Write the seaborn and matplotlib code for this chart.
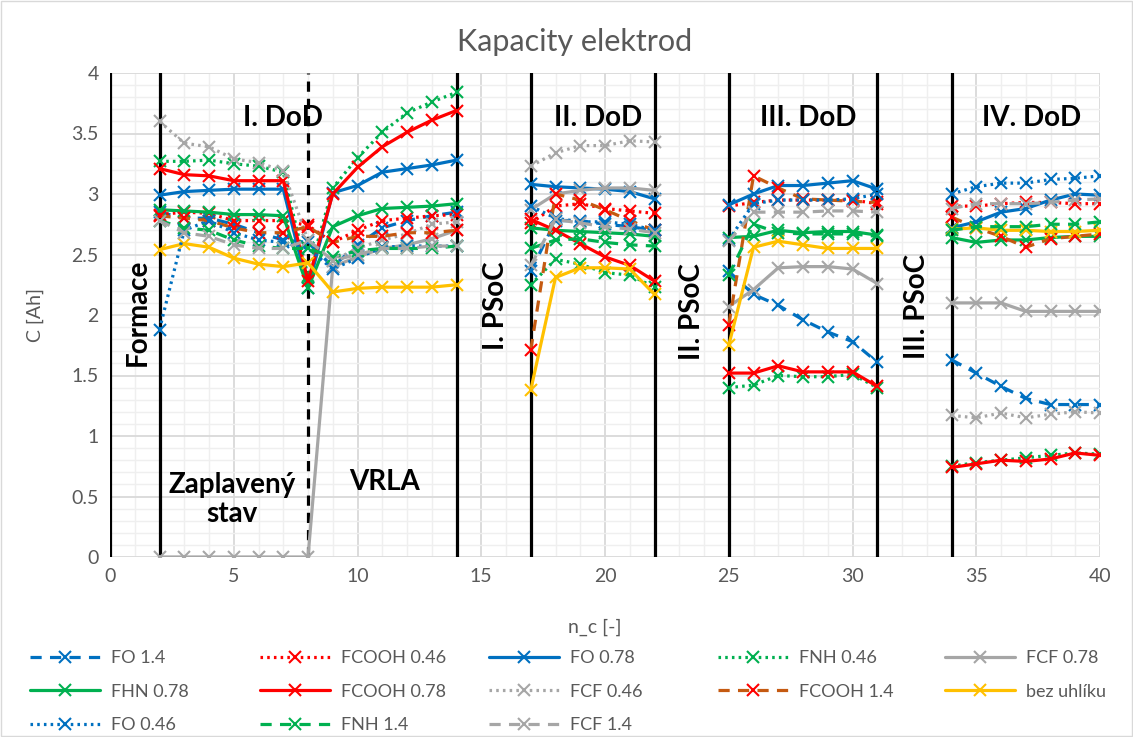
import numpy as np
import pandas as pd
import matplotlib
matplotlib.use("Agg")
import matplotlib.pyplot as plt
from matplotlib.lines import Line2D
from matplotlib.patches import Rectangle
import seaborn as sns

# ---------------- data ----------------
cycles = [2, 3, 4, 5, 6, 7, 8, 9, 10, 11, 12, 13, 14,
          17, 18, 19, 20, 21, 22,
          25, 26, 27, 28, 29, 30, 31,
          34, 35, 36, 37, 38, 39, 40]
segment = [1] * 13 + [2] * 6 + [3] * 7 + [4] * 7
NA = np.nan

fo_14 = [2.85, 2.80, 2.80, 2.75, 2.68, 2.62, 2.60, 2.40, 2.58, 2.72, 2.78, 2.82, 2.85,
         2.36, 2.78, 2.78, 2.75, 2.73, 2.70,
         2.36, 2.17, 2.08, 1.96, 1.86, 1.78, 1.61,
         1.63, 1.52, 1.41, 1.31, 1.26, 1.26, 1.26]
fcooh_046 = [2.83, 2.85, 2.84, 2.78, 2.78, 2.78, 2.74, 2.60, 2.70, 2.78, 2.80, 2.82, 2.83,
             2.76, 2.90, 2.92, 2.88, 2.86, 2.84,
             2.90, 2.93, 2.95, 2.95, 2.95, 2.95, 2.92,
             2.90, 2.90, 2.92, 2.93, 2.93, 2.92, 2.92]
fo_078 = [2.99, 3.02, 3.03, 3.04, 3.04, 3.04, 2.22, 3.01, 3.07, 3.18, 3.21, 3.24, 3.28,
          3.08, 3.06, 3.05, 3.04, 3.02, 2.96,
          2.91, 3.00, 3.07, 3.07, 3.09, 3.11, 3.04,
          2.72, 2.77, 2.85, 2.88, 2.95, 3.00, 2.99]
fnh_046 = [3.27, 3.27, 3.28, 3.25, 3.23, 3.18, 2.32, 3.05, 3.30, 3.51, 3.67, 3.76, 3.84,
           2.25, 2.46, 2.42, 2.35, 2.33, 2.23,
           1.40, 1.42, 1.50, 1.49, 1.49, 1.51, 1.40,
           0.75, 0.78, 0.80, 0.82, 0.84, 0.86, 0.85]
fcf_078 = [0, 0, 0, 0, 0, 0, 0, 2.40, 2.48, 2.55, 2.58, 2.63, 2.70,
           2.87, 3.00, 3.03, 3.05, 3.05, 3.03,
           2.07, 2.21, 2.39, 2.40, 2.40, 2.38, 2.26,
           2.10, 2.10, 2.10, 2.03, 2.03, 2.03, 2.03]
fhn_078 = [2.87, 2.86, 2.85, 2.83, 2.83, 2.82, 2.22, 2.73, 2.82, 2.88, 2.89, 2.90, 2.92,
           2.72, 2.70, 2.69, 2.68, 2.67, 2.65,
           2.64, 2.65, 2.70, 2.68, 2.69, 2.69, 2.66,
           2.64, 2.60, 2.62, 2.62, 2.64, 2.65, 2.65]
fcooh_078 = [3.21, 3.16, 3.15, 3.11, 3.11, 3.11, 2.28, 3.00, 3.22, 3.39, 3.51, 3.61, 3.69,
             2.79, 2.70, 2.59, 2.48, 2.41, 2.28,
             1.52, 1.52, 1.58, 1.53, 1.53, 1.53, 1.41,
             0.74, 0.77, 0.80, 0.79, 0.81, 0.86, 0.84]
fcf_046 = [3.60, 3.42, 3.39, 3.29, 3.26, 3.19, 2.62, 2.45, 2.55, 2.62, 2.67, 2.75, 2.77,
           3.23, 3.34, 3.40, 3.40, 3.44, 3.43,
           NA, NA, NA, NA, NA, NA, NA,
           1.17, 1.15, 1.19, 1.15, 1.18, 1.20, 1.19]
fcooh_14 = [2.82, 2.80, 2.78, 2.72, 2.68, 2.68, 2.73, 2.60, 2.65, 2.65, 2.68, 2.68, 2.70,
            1.71, 3.00, 2.95, 2.87, 2.78, 2.70,
            1.92, 3.15, 3.05, 2.96, 2.95, 2.94, 2.93,
            2.81, 2.72, 2.65, 2.56, 2.63, 2.65, 2.67]
bez_uhliku = [2.54, 2.59, 2.56, 2.47, 2.42, 2.40, 2.43, 2.19, 2.22, 2.23, 2.23, 2.23, 2.25,
              1.38, 2.31, 2.39, 2.39, 2.38, 2.17,
              1.75, 2.56, 2.61, 2.58, 2.55, 2.55, 2.55,
              2.71, 2.72, 2.70, 2.70, 2.69, 2.69, 2.70]
fo_046 = [1.88, 2.70, 2.78, 2.68, 2.62, 2.60, 2.55, 2.38, 2.47, 2.56, 2.57, 2.57, 2.57,
          2.90, 2.80, 2.77, 2.77, 2.75, 2.70,
          2.62, 2.92, 2.95, 2.95, 2.95, 2.96, 3.00,
          3.00, 3.06, 3.09, 3.09, 3.12, 3.13, 3.15]
fnh_14 = [2.78, 2.72, 2.70, 2.62, 2.57, 2.55, 2.55, 2.48, 2.53, 2.55, 2.55, 2.55, 2.57,
          2.55, 2.62, 2.63, 2.60, 2.58, 2.57,
          2.33, 2.75, 2.68, 2.67, 2.67, 2.67, 2.65,
          2.70, 2.73, 2.73, 2.73, 2.75, 2.75, 2.77]
fcf_14 = [2.78, 2.68, 2.65, 2.58, 2.55, 2.55, 2.62, 2.45, 2.50, 2.55, 2.55, 2.57, 2.57,
          2.41, 2.79, 2.76, 2.73, 2.71, 2.68,
          2.61, 2.85, 2.85, 2.85, 2.86, 2.86, 2.85,
          2.88, 2.92, 2.92, 2.92, 2.93, 2.95, 2.96]

series_names = ["FO 1.4", "FCOOH 0.46", "FO 0.78", "FNH 0.46", "FCF 0.78",
                "FHN 0.78", "FCOOH 0.78", "FCF 0.46", "FCOOH 1.4", "bez uhlíku",
                "FO 0.46", "FNH 1.4", "FCF 1.4"]
series_values = [fo_14, fcooh_046, fo_078, fnh_046, fcf_078,
                 fhn_078, fcooh_078, fcf_046, fcooh_14, bez_uhliku,
                 fo_046, fnh_14, fcf_14]

solid_lines = [0, 2, 14, 17, 22, 25, 31, 34]
dashed_lines = [8]

region_labels = ["I. DoD", "II. DoD", "III. DoD", "IV. DoD"]
psoc_labels = ["Formace", "I. PSoC", "II. PSoC", "III. PSoC"]

# ---------------- styles ----------------
BLUE, RED, GREEN, GRAY, BROWN, YELLOW = "#0070C0", "#FF0000", "#00B050", "#A6A6A6", "#C55A11", "#FFC000"
DOT = (0, (0.8, 1.3))
DASH = (0, (3.5, 2.6))
styles = {
    "FO 1.4": (BLUE, DASH, BLUE),
    "FCOOH 0.46": (RED, DOT, RED),
    "FO 0.78": (BLUE, "-", BLUE),
    "FNH 0.46": (GREEN, DOT, GREEN),
    "FCF 0.78": (GRAY, "-", GRAY),
    "FHN 0.78": (GREEN, "-", GREEN),
    "FCOOH 0.78": (RED, "-", RED),
    "FCF 0.46": (GRAY, DOT, GRAY),
    "FCOOH 1.4": (BROWN, DASH, RED),
    "bez uhlíku": (YELLOW, "-", YELLOW),
    "FO 0.46": (BLUE, DOT, BLUE),
    "FNH 1.4": (GREEN, DASH, GREEN),
    "FCF 1.4": (GRAY, DASH, GRAY),
}

# ---------------- long table ----------------
rows = []
for name, vals in zip(series_names, series_values):
    for c, s, v in zip(cycles, segment, vals):
        rows.append({"series": name, "n_c": c, "seg": s, "C": v})
df = pd.DataFrame(rows).dropna()

# ---------------- figure ----------------
sns.set_theme(style="white")
plt.rcParams["font.family"] = ["Lato", "DejaVu Sans"]

fig = plt.figure(figsize=(11.33, 7.37), dpi=100)
ax = fig.add_axes([110 / 1133, 1 - 557 / 737, 990 / 1133, 484 / 737])

ax.set_xlim(0, 40)
ax.set_ylim(0, 4)
ax.set_xticks(np.arange(0, 41, 5))
ax.set_xticks(np.arange(0, 41, 1), minor=True)
ax.set_yticks(np.arange(0, 4.01, 0.5))
ax.set_yticks(np.arange(0, 4.01, 0.1), minor=True)
ax.grid(which="minor", color="#EFEFEF", lw=1.0, zorder=0)
ax.grid(which="major", color="#D9D9D9", lw=1.3, zorder=0)
ax.set_axisbelow(True)
for sp in ax.spines.values():
    sp.set_visible(False)
ax.tick_params(axis="both", which="both", length=0, labelsize=14, labelcolor="#595959", pad=8)
ax.set_yticklabels([f"{v:g}" for v in np.arange(0, 4.01, 0.5)])

for xv in solid_lines:
    ax.axvline(xv, color="black", lw=2.3, zorder=1.5)
for xv in dashed_lines:
    ax.axvline(xv, color="black", lw=2.3, ls=(0, (3.2, 2.2)), zorder=1.5)

for i, name in enumerate(series_names):
    color, ls, mcol = styles[name]
    sub = df[df.series == name]
    for s, part in sub.groupby("seg"):
        sns.lineplot(data=part, x="n_c", y="C", ax=ax, color=color, linestyle=ls,
                     lw=2.3, marker="x", markersize=8.5, markeredgewidth=1.5,
                     markeredgecolor=mcol, estimator=None, sort=False,
                     legend=False, zorder=3 + i * 0.01)

ax.set_xlabel("")
ax.set_ylabel("")

# region annotations
bold = dict(fontsize=20, fontweight="bold", color="black", zorder=5)
for lab, xp in zip(region_labels, [7.0, 19.7, 28.2, 37.25]):
    ax.text(xp, 3.63, lab, ha="center", va="center", **bold)
for lab, xp, yp in zip(psoc_labels, [1.13, 15.6, 23.5, 32.6], [2.02, 2.08, 2.03, 2.07]):
    ax.text(xp, yp, lab, ha="center", va="center", rotation=90, **bold)
ax.text(4.93, 0.475, "Zaplavený\nstav", ha="center", va="center", linespacing=1.15, **bold)
ax.text(11.1, 0.62, "VRLA", ha="center", va="center", **bold)

# titles / labels
fig.text(575 / 1133, 1 - 42 / 737, "Kapacity elektrod", ha="center", va="center",
         fontsize=22, color="#595959")
fig.text(35 / 1133, 1 - 315 / 737, "C [Ah]", ha="center", va="center", rotation=90,
         fontsize=14, color="#595959")
fig.text(595 / 1133, 1 - 627 / 737, "n_c [-]", ha="center", va="center",
         fontsize=14, color="#595959")

# legend: 5 columns, 3 rows (row-major order as in the reference)
col_x = [30, 260, 489, 718, 945]
for c in range(5):
    names = series_names[c::5]
    handles = []
    for name in names:
        color, ls, mcol = styles[name]
        handles.append(Line2D([], [], color=color, linestyle=ls, lw=2.3, marker="x",
                              markersize=8.5, markeredgewidth=1.5, markeredgecolor=mcol))
    fig.legend(handles, names, loc="upper left",
               bbox_to_anchor=(col_x[c] / 1133, 1 - 650 / 737),
               frameon=False, fontsize=13, labelcolor="#595959",
               handlelength=3.9, handletextpad=0.6, labelspacing=0.98,
               borderaxespad=0, borderpad=0)

fig.patches.append(Rectangle((0.001, 0.001), 0.998, 0.998, transform=fig.transFigure,
                             fill=False, edgecolor="#D9D9D9", lw=1))

fig.savefig("out.png", dpi=100, facecolor="white")
